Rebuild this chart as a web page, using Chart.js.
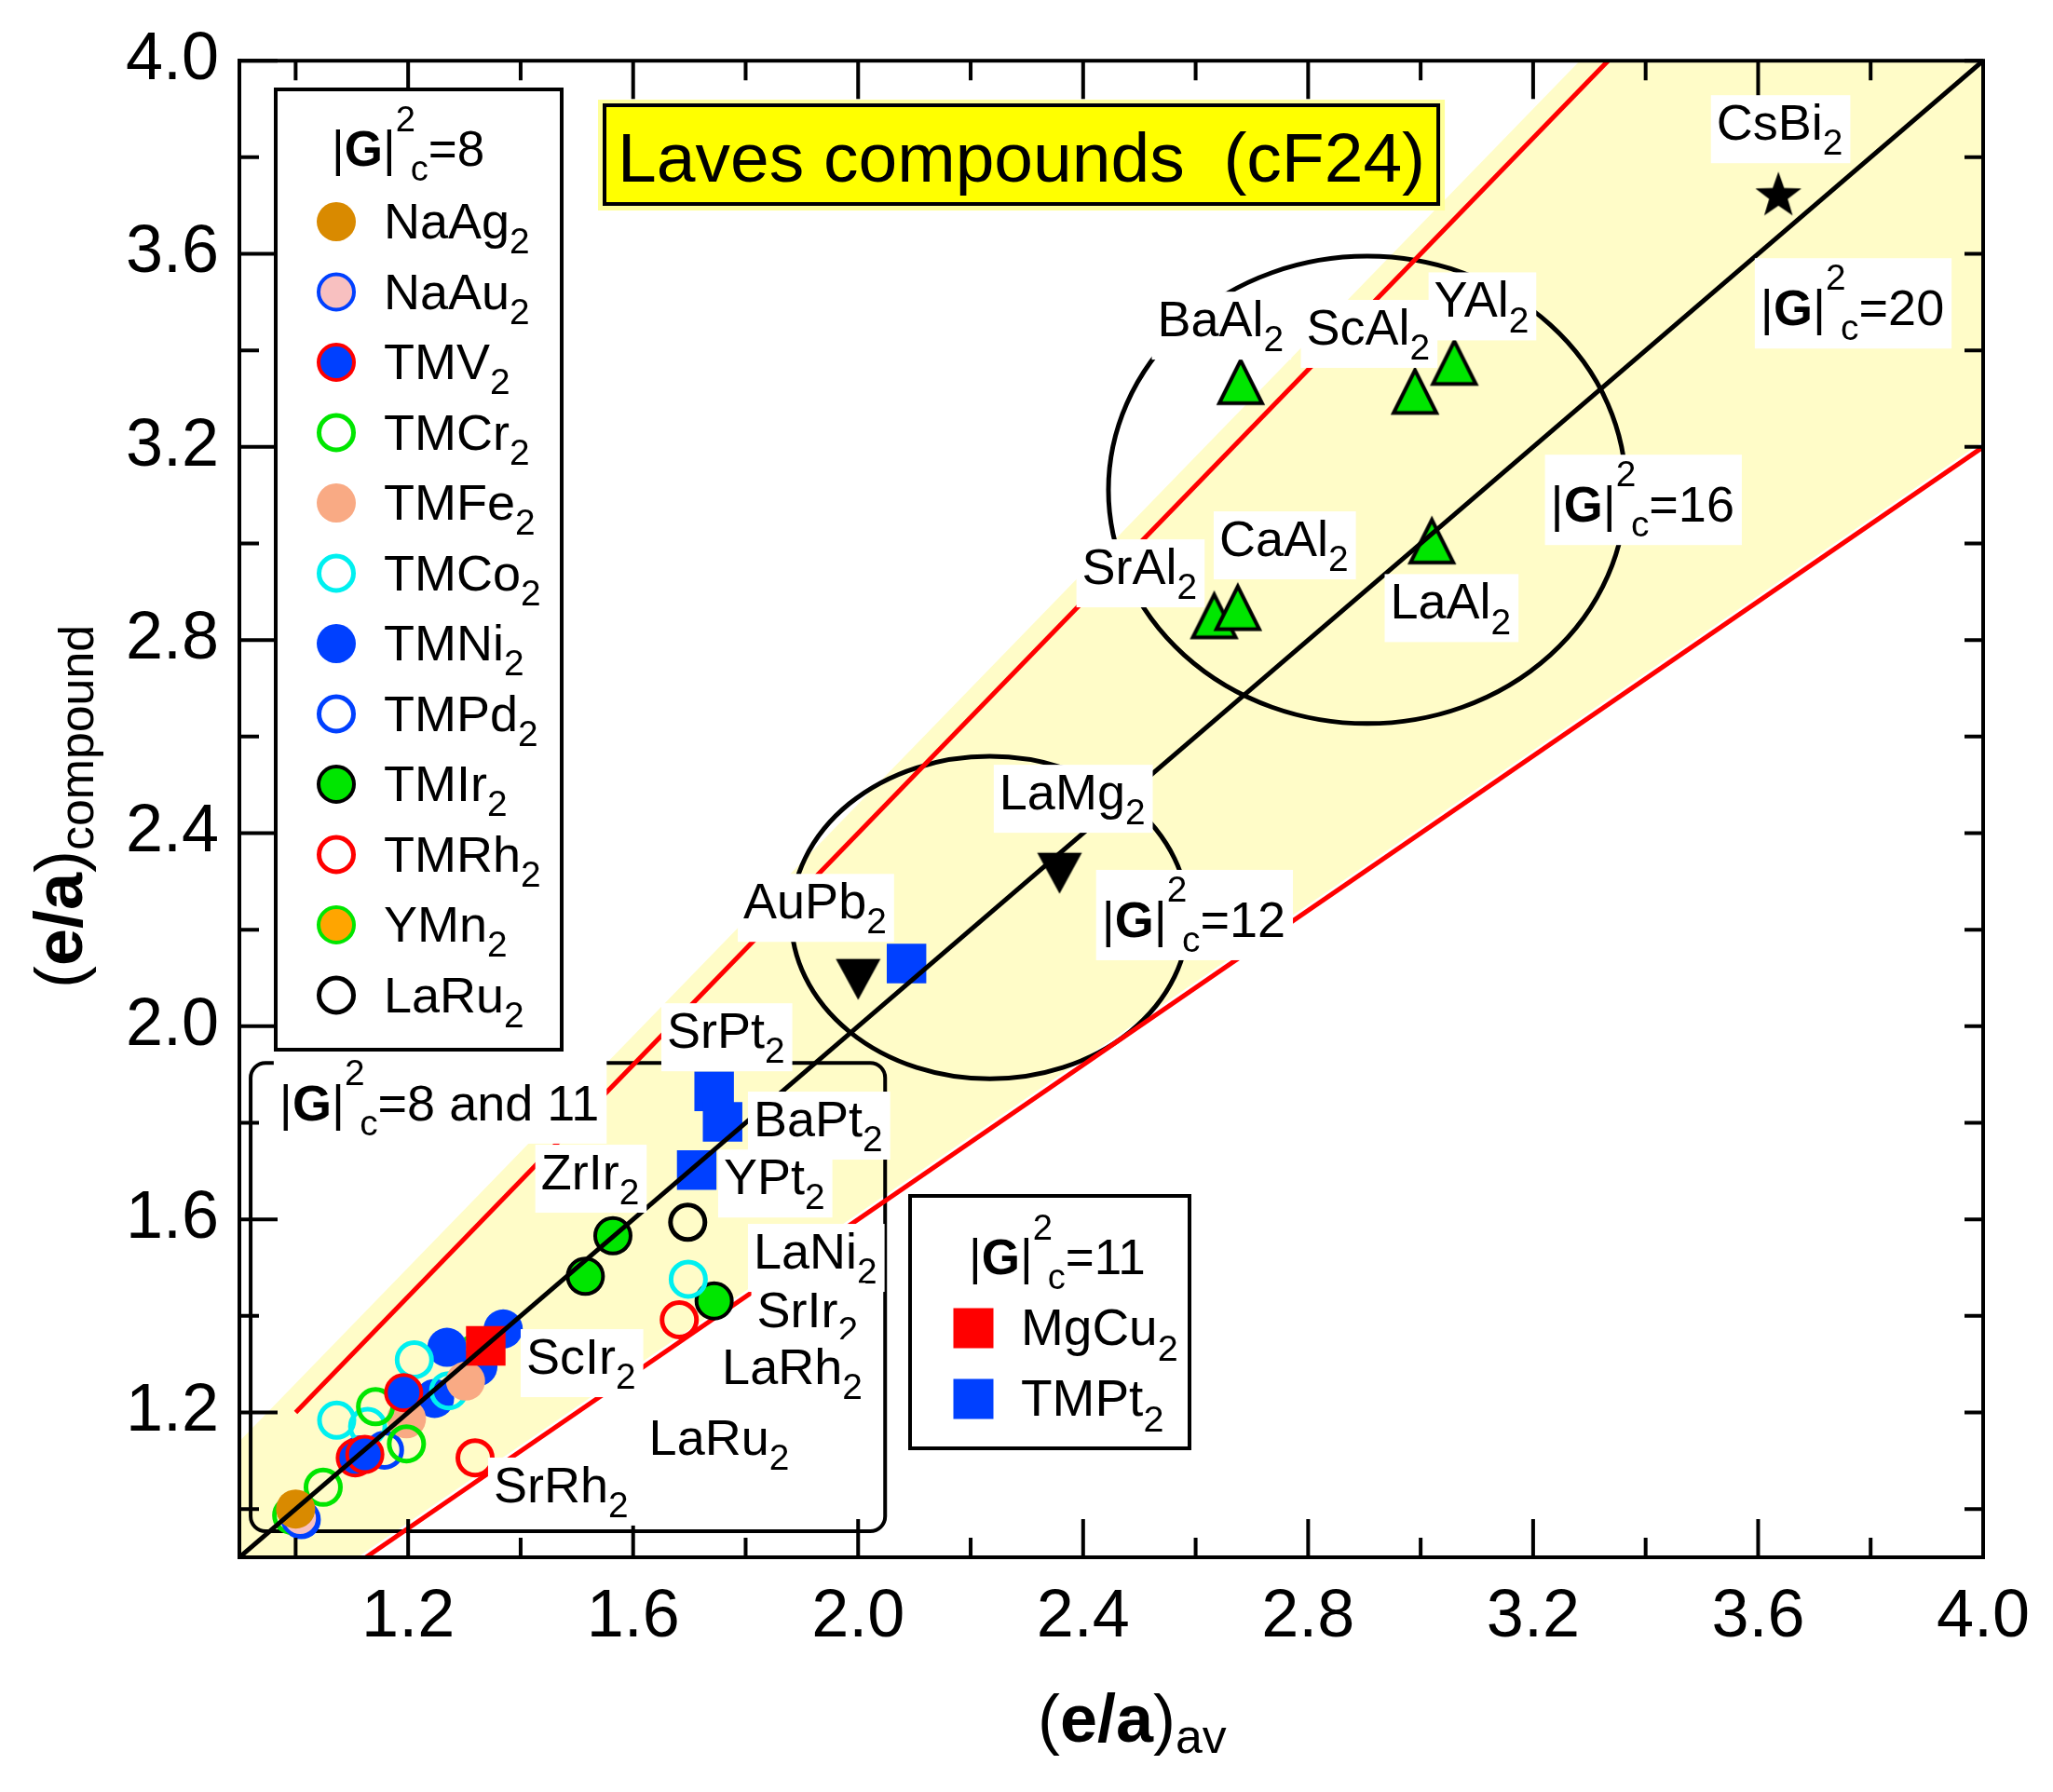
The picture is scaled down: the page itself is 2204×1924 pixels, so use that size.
<!DOCTYPE html>
<html>
<head>
<meta charset="utf-8">
<title>Laves compounds (cF24)</title>
<script src="https://cdn.jsdelivr.net/npm/chart.js@4.4.1/dist/chart.umd.min.js"></script>
<style>
  html, body { margin: 0; padding: 0; background: #fff; }
  canvas { display: block; }
</style>
</head>
<body>
<canvas id="chart" width="2204" height="1924" style="width:2204px;height:1924px"></canvas>
<script>
const FONT = '"Liberation Sans", Arial, Helvetica, sans-serif';

// axis ticks
const majorTicks = [1.2, 1.6, 2.0, 2.4, 2.8, 3.2, 3.6, 4.0];
const minorTicks = [1.0, 1.4, 1.8, 2.2, 2.6, 3.0, 3.4, 3.8];
const tickLabels = ['1.2', '1.6', '2.0', '2.4', '2.8', '3.2', '3.6', '4.0'];

// |G|^2c = 8 compounds
const naAg2 = [{ x: 1.00, y: 1.00 }];
const naAu2 = [{ x: 1.008, y: 0.981 }];
const tmV2 = [{ x: 1.106, y: 1.106 }, { x: 1.123, y: 1.113 }, { x: 1.192, y: 1.241 }];
const tmCr2 = [{ x: 0.993, y: 0.987 }, { x: 1.049, y: 1.045 }, { x: 1.142, y: 1.212 }, { x: 1.197, y: 1.135 }];
const tmFe2 = [{ x: 1.197, y: 1.187 }, { x: 1.302, y: 1.265 }];
const tmCo2 = [{ x: 1.073, y: 1.184 }, { x: 1.128, y: 1.171 }, { x: 1.211, y: 1.309 }, { x: 1.272, y: 1.245 }, { x: 1.698, y: 1.476 }];
const tmNi2 = [{ x: 1.115, y: 1.112 }, { x: 1.247, y: 1.229 }, { x: 1.269, y: 1.335 }, { x: 1.324, y: 1.295 }, { x: 1.369, y: 1.373 }];
const tmPd2 = [{ x: 1.158, y: 1.122 }, { x: 1.010, y: 0.978 }];
const tmIr2 = [{ x: 1.515, y: 1.482 }, { x: 1.564, y: 1.566 }, { x: 1.744, y: 1.431 }];
const tmRh2 = [{ x: 1.682, y: 1.392 }, { x: 1.319, y: 1.106 }];
const yMn2 = [{ x: 1.319, y: 1.322 }];
const laRu2 = [{ x: 1.697, y: 1.594 }];

// |G|^2c = 11 compounds
const mgCu2 = [{ x: 1.338, y: 1.338 }];
const tmPt2 = [{ x: 1.744, y: 1.865 }, { x: 1.759, y: 1.802 }, { x: 1.713, y: 1.702 }, { x: 2.086, y: 2.13 }];

// |G|^2c = 12, 16, 20
const xAl2 = [{ x: 2.68, y: 3.32 }, { x: 2.99, y: 3.30 }, { x: 3.06, y: 3.36 }, { x: 3.02, y: 2.99 }, { x: 2.633, y: 2.835 }, { x: 2.675, y: 2.852 }];
const xMg2Pb2 = [{ x: 2.358, y: 2.331 }, { x: 2.00, y: 2.111 }];
const csBi2 = [{ x: 3.636, y: 3.72 }];

// guide lines
const diagLine = [{ x: 0.9, y: 0.9 }, { x: 4.0, y: 4.0 }];
const upperLine = [{ x: 1.0, y: 1.2 }, { x: 3.3333, y: 4.0 }];
const lowerLine = [{ x: 1.125, y: 0.9 }, { x: 4.0, y: 3.2 }];
const bandEdge = [{ x: 0.9, y: 0.9 }, { x: 0.9, y: 1.14 }, { x: 3.283, y: 4.0 }, { x: 4.0, y: 4.0 }, { x: 4.0, y: 3.212 }, { x: 1.11, y: 0.9 }];
const ellipses = [{ cx: 2.234, cy: 2.225, rx: 0.353, ry: 0.334 }, { cx: 2.905, cy: 3.111, rx: 0.460, ry: 0.484 }];
const insetBox = { x0: 0.92, y0: 0.954, x1: 2.048, y1: 1.924 };

// labels: t = formula, g = |G|^2c text
const pointLabels = [
  { t: 'CsBi2', x: 3.526, y: 3.836 },
  { g: '=20', x: 3.604, y: 3.452 },
  { g: '=16', x: 3.231, y: 3.045 },
  { t: 'YAl2', x: 3.024, y: 3.469 },
  { t: 'ScAl2', x: 2.797, y: 3.412 },
  { t: 'BaAl2', x: 2.532, y: 3.429 },
  { t: 'CaAl2', x: 2.642, y: 2.974 },
  { t: 'SrAl2', x: 2.398, y: 2.916 },
  { t: 'LaAl2', x: 2.946, y: 2.844 },
  { t: 'LaMg2', x: 2.251, y: 2.449 },
  { g: '=12', x: 2.433, y: 2.185 },
  { t: 'AuPb2', x: 1.796, y: 2.223 },
  { t: 'SrPt2', x: 1.660, y: 1.955 },
  { t: 'BaPt2', x: 1.814, y: 1.772 },
  { t: 'YPt2', x: 1.761, y: 1.652 },
  { t: 'ZrIr2', x: 1.436, y: 1.662 },
  { t: 'LaNi2', x: 1.814, y: 1.498 },
  { t: 'SrIr2', x: 1.820, y: 1.376 },
  { t: 'LaRh2', x: 1.758, y: 1.259 },
  { t: 'LaRu2', x: 1.628, y: 1.112 },
  { t: 'SrRh2', x: 1.352, y: 1.014 },
  { t: 'ScIr2', x: 1.410, y: 1.280 },
  { g: '=8 and 11', x: 0.971, y: 1.805 }
];

const BLUE = '#0040ff', RED = '#ff0000', GREEN = '#00e600', BAND = '#fffcc8';

const circleSeries = [
  { name: 'NaAg2', data: naAg2, fill: '#d98a00', stroke: '#d98a00', bw: 0 },
  { name: 'NaAu2', data: naAu2, fill: '#f8c0c0', stroke: BLUE, bw: 4 },
  { name: 'TMV2', data: tmV2, fill: BLUE, stroke: RED, bw: 4 },
  { name: 'TMCr2', data: tmCr2, fill: 'rgba(0,0,0,0)', stroke: GREEN, bw: 5 },
  { name: 'TMFe2', data: tmFe2, fill: '#f9aa84', stroke: '#f9aa84', bw: 0 },
  { name: 'TMCo2', data: tmCo2, fill: 'rgba(0,0,0,0)', stroke: '#00f0f0', bw: 5 },
  { name: 'TMNi2', data: tmNi2, fill: BLUE, stroke: BLUE, bw: 0 },
  { name: 'TMPd2', data: tmPd2, fill: 'rgba(0,0,0,0)', stroke: BLUE, bw: 5 },
  { name: 'TMIr2', data: tmIr2, fill: GREEN, stroke: '#000', bw: 4 },
  { name: 'TMRh2', data: tmRh2, fill: 'rgba(0,0,0,0)', stroke: RED, bw: 5 },
  { name: 'YMn2', data: yMn2, fill: '#ffa500', stroke: GREEN, bw: 4 },
  { name: 'LaRu2', data: laRu2, fill: 'rgba(0,0,0,0)', stroke: '#000', bw: 5 }
];
const squareSeries = [
  { name: 'MgCu2', data: mgCu2, fill: RED },
  { name: 'TMPt2', data: tmPt2, fill: BLUE }
];

// custom marker shapes
function triCanvas(w, h, fill, stroke, lw, down) {
  const c = document.createElement('canvas');
  c.width = Math.round(w + lw * 2 + 6);
  c.height = Math.round(h * 4 / 3 + lw * 2 + 6);
  const g = c.getContext('2d');
  const cx = c.width / 2, cy = c.height / 2;
  g.beginPath();
  if (!down) {
    g.moveTo(cx, cy - 2 * h / 3); g.lineTo(cx + w / 2, cy + h / 3); g.lineTo(cx - w / 2, cy + h / 3);
  } else {
    g.moveTo(cx, cy + 2 * h / 3); g.lineTo(cx + w / 2, cy - h / 3); g.lineTo(cx - w / 2, cy - h / 3);
  }
  g.closePath();
  g.fillStyle = fill; g.fill();
  if (lw) { g.lineWidth = lw; g.strokeStyle = stroke; g.lineJoin = 'miter'; g.stroke(); }
  return c;
}
function starCanvas(R, r) {
  const c = document.createElement('canvas');
  c.width = c.height = Math.ceil(R * 2 + 4);
  const g = c.getContext('2d');
  const cx = c.width / 2, cy = c.height / 2;
  g.beginPath();
  for (let i = 0; i < 10; i++) {
    const a = -Math.PI / 2 + i * Math.PI / 5;
    const rr = i % 2 ? r : R;
    g.lineTo(cx + rr * Math.cos(a), cy + rr * Math.sin(a));
  }
  g.closePath(); g.fillStyle = '#000'; g.fill();
  return c;
}

const datasets = [];
datasets.push({ label: 'diag', data: diagLine, showLine: true, borderColor: '#000', borderWidth: 5, pointRadius: 0, order: 0 });
circleSeries.forEach((s, i) => datasets.push({
  label: s.name, data: s.data, pointStyle: 'circle', pointRadius: 21 - s.bw / 2,
  backgroundColor: s.fill, borderColor: s.stroke, borderWidth: s.bw, order: 2 + i
}));
squareSeries.forEach(s => datasets.push({
  label: s.name, data: s.data, pointStyle: 'rect', pointRadius: 30,
  backgroundColor: s.fill, borderColor: s.fill, borderWidth: 0, order: 1
}));
datasets.push({ label: 'Al2', data: xAl2, pointStyle: triCanvas(46, 46, GREEN, '#000', 4, false), pointRadius: 24, order: 1 });
datasets.push({ label: 'Mg2Pb2', data: xMg2Pb2, pointStyle: triCanvas(48, 44, '#000', '#000', 0, true), pointRadius: 24, order: 1 });
datasets.push({ label: 'CsBi2', data: csBi2, pointStyle: starCanvas(26, 10.5), pointRadius: 24, order: 1 });
datasets.push({ label: 'upper', data: upperLine, showLine: true, borderColor: RED, borderWidth: 5, pointRadius: 0, order: 30 });
datasets.push({ label: 'lower', data: lowerLine, showLine: true, borderColor: RED, borderWidth: 5, pointRadius: 0, order: 30 });

// rich text: parts = [[text, kind]], kind n | b | sub | sup
function rich(ctx, parts, x0, y0, size, draw, subDy) {
  let x = x0;
  const sd = subDy === undefined ? 0.3 : subDy;
  for (const [s, k] of parts) {
    let fs = size, dy = 0, bold = k === 'b', adv = true;
    if (k === 'sub') { fs = size * 0.72; dy = size * sd; }
    if (k === 'sup') { fs = size * 0.72; dy = -size * 0.7; adv = false; }
    ctx.font = (bold ? 'bold ' : '') + fs + 'px ' + FONT;
    const w = ctx.measureText(s).width;
    if (draw) ctx.fillText(s, x, y0 + dy);
    x += adv ? w : size * 0.3;
  }
  return x - x0;
}
const chem = str => str.match(/\d+|\D+/g).map(s => [s, /\d/.test(s) ? 'sub' : 'n']);
const gParts = rest => [['|', 'n'], ['G', 'b'], ['|', 'n'], ['2', 'sup'], ['c', 'sub'], [rest, 'n']];

function drawLegendMarker(ctx, s, x, y) {
  ctx.beginPath();
  ctx.arc(x, y, 21 - s.bw / 2, 0, Math.PI * 2);
  ctx.fillStyle = s.fill; ctx.fill();
  if (s.bw) { ctx.lineWidth = s.bw; ctx.strokeStyle = s.stroke; ctx.stroke(); }
}

function tickMarks(ctx, a, x, y) {
  ctx.strokeStyle = '#000'; ctx.lineWidth = 4;
  ctx.beginPath();
  [[majorTicks, 41], [minorTicks, 21]].forEach(([vals, len]) => {
    vals.forEach(v => {
      const px = x.getPixelForValue(v), py = y.getPixelForValue(v);
      ctx.moveTo(px, a.bottom); ctx.lineTo(px, a.bottom - len);
      ctx.moveTo(px, a.top); ctx.lineTo(px, a.top + len);
      ctx.moveTo(a.left, py); ctx.lineTo(a.left + len, py);
      ctx.moveTo(a.right, py); ctx.lineTo(a.right - 20, py);
    });
  });
  ctx.stroke();
  ctx.lineWidth = 4;
  ctx.strokeRect(a.left, a.top, a.right - a.left, a.bottom - a.top);
}

const decoPlugin = {
  id: 'deco',
  beforeDatasetsDraw(chart) {
    const { ctx, chartArea: a, scales: { x, y } } = chart;
    ctx.save();
    ctx.beginPath(); ctx.rect(a.left, a.top, a.right - a.left, a.bottom - a.top); ctx.clip();
    ctx.fillStyle = BAND;
    ctx.beginPath();
    bandEdge.forEach((p, i) => {
      const px = x.getPixelForValue(p.x), py = y.getPixelForValue(p.y);
      if (i) ctx.lineTo(px, py); else ctx.moveTo(px, py);
    });
    ctx.closePath(); ctx.fill();

    // inset frame
    const bx0 = x.getPixelForValue(insetBox.x0), bx1 = x.getPixelForValue(insetBox.x1);
    const by0 = y.getPixelForValue(insetBox.y1), by1 = y.getPixelForValue(insetBox.y0);
    ctx.strokeStyle = '#000'; ctx.lineWidth = 4;
    ctx.beginPath(); ctx.roundRect(bx0, by0, bx1 - bx0, by1 - by0, 16); ctx.stroke();

    ctx.lineWidth = 5;
    ellipses.forEach(e => {
      const cx = x.getPixelForValue(e.cx), cy = y.getPixelForValue(e.cy);
      const rx = Math.abs(x.getPixelForValue(e.cx + e.rx) - cx);
      const ry = Math.abs(y.getPixelForValue(e.cy + e.ry) - cy);
      ctx.beginPath(); ctx.ellipse(cx, cy, rx, ry, 0, 0, Math.PI * 2); ctx.stroke();
    });
    ctx.restore();
  },
  afterDatasetsDraw(chart) {
    const { ctx, chartArea: a, scales: { x, y } } = chart;
    ctx.save();
    tickMarks(ctx, a, x, y);
    ctx.textBaseline = 'alphabetic';
    ctx.textAlign = 'left';

    // point labels with white backing
    const LS = 54;
    pointLabels.forEach(l => {
      const parts = l.t ? chem(l.t) : gParts(l.g);
      const px = x.getPixelForValue(l.x), py = y.getPixelForValue(l.y);
      const w = rich(ctx, parts, px, py, LS, false);
      const top = l.g ? py - 72 : py - 48;
      ctx.fillStyle = '#fff';
      ctx.fillRect(px - 6, top, w + 14, py + 25 - top);
      ctx.fillStyle = '#000';
      rich(ctx, parts, px, py, LS, true);
    });

    // top-left legend
    ctx.fillStyle = '#fff'; ctx.fillRect(296, 96, 307, 1031);
    ctx.strokeStyle = '#000'; ctx.lineWidth = 4; ctx.strokeRect(296, 96, 307, 1031);
    ctx.fillStyle = '#000';
    rich(ctx, gParts('=8'), 356, 178, 53, true);
    circleSeries.forEach((s, i) => {
      const cy = 238 + i * 75.5;
      drawLegendMarker(ctx, s, 361, cy);
      ctx.fillStyle = '#000';
      rich(ctx, chem(s.name), 412, cy + 18, 54, true);
    });

    // |G|^2c = 11 legend
    ctx.fillStyle = '#fff'; ctx.fillRect(977, 1284, 300, 271);
    ctx.strokeStyle = '#000'; ctx.lineWidth = 4; ctx.strokeRect(977, 1284, 300, 271);
    ctx.fillStyle = '#000';
    rich(ctx, gParts('=11'), 1040, 1368, 53, true);
    squareSeries.forEach((s, i) => {
      const cy = 1426 + i * 76;
      ctx.fillStyle = s.fill; ctx.fillRect(1045 - 21.5, cy - 21.5, 43, 43);
      ctx.fillStyle = '#000';
      rich(ctx, chem(s.name), 1096, cy + 18, 55, true);
    });

    // title box
    const title = 'Laves compounds  (cF24)';
    ctx.font = '75px ' + FONT;
    const tw = ctx.measureText(title).width;
    ctx.fillStyle = '#ffff99'; ctx.fillRect(642, 107, tw + 42, 119);
    ctx.fillStyle = '#ffff00'; ctx.fillRect(649, 113, tw + 28, 106);
    ctx.strokeStyle = '#000'; ctx.lineWidth = 4; ctx.strokeRect(649, 113, tw + 28, 106);
    ctx.fillStyle = '#000'; ctx.fillText(title, 663, 195);

    // axis titles
    const tParts = sub => [['(', 'n'], ['e/a', 'b'], [')', 'n'], [sub, 'sub']];
    rich(ctx, tParts('av'), 1114, 1870, 72, true, 0.17);
    ctx.translate(88, 1061);
    ctx.rotate(-Math.PI / 2);
    rich(ctx, tParts('compound'), 0, 0, 72, true, 0.17);
    ctx.restore();
  }
};

const tickFont = { family: FONT, size: 72 };
new Chart(document.getElementById('chart'), {
  type: 'scatter',
  data: { datasets },
  options: {
    responsive: false,
    devicePixelRatio: 1,
    animation: false,
    events: [],
    layout: { padding: { left: 0, right: 75, top: 65, bottom: 0 } },
    plugins: { legend: { display: false }, tooltip: { enabled: false } },
    scales: {
      x: {
        type: 'linear', min: 0.9, max: 4.0,
        afterBuildTicks: s => { s.ticks = majorTicks.map(v => ({ value: v })); },
        afterFit: s => { s.height = 252; },
        ticks: { color: '#000', font: tickFont, padding: 22, autoSkip: false, maxRotation: 0,
          callback: (v, i) => tickLabels[i] },
        grid: { display: false, drawTicks: false },
        border: { display: true, color: '#000', width: 4 }
      },
      y: {
        type: 'linear', min: 0.9, max: 4.0,
        afterBuildTicks: s => { s.ticks = majorTicks.map(v => ({ value: v })); },
        afterFit: s => { s.width = 257; },
        ticks: { color: '#000', font: tickFont, padding: 22, autoSkip: false,
          callback: (v, i) => tickLabels[i] },
        grid: { display: false, drawTicks: false },
        border: { display: true, color: '#000', width: 4 }
      }
    }
  },
  plugins: [decoPlugin]
});
</script>
</body>
</html>
